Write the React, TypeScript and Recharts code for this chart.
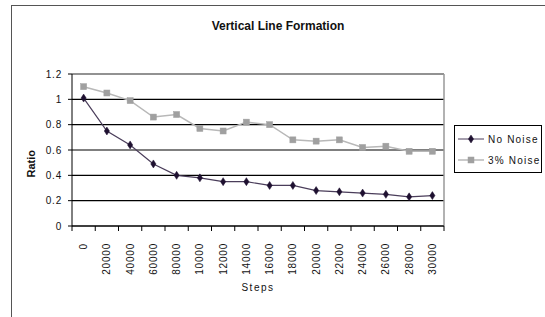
import React from 'react';
import { LineChart, Line, XAxis, YAxis, CartesianGrid } from 'recharts';

const stepLabels = ['0', '20000', '40000', '60000', '80000', '10000', '12000', '14000', '16000', '18000', '20000', '22000', '24000', '26000', '28000', '30000'];
const noNoise = [1.01, 0.75, 0.64, 0.49, 0.4, 0.38, 0.35, 0.35, 0.32, 0.32, 0.28, 0.27, 0.26, 0.25, 0.23, 0.24];
const threePctNoise = [1.1, 1.05, 0.99, 0.86, 0.88, 0.77, 0.75, 0.82, 0.8, 0.68, 0.67, 0.68, 0.62, 0.63, 0.59, 0.59];
const yTicks = [0, 0.2, 0.4, 0.6, 0.8, 1, 1.2];

const data = stepLabels.map((s, i) => ({ idx: i, label: s, noNoise: noNoise[i], noise3: threePctNoise[i] }));

const W = 545;
const H = 317;
const margin = { top: 74, right: 101, left: 32, bottom: 41 };
const Y_AXIS_W = 40;
const plotW = W - margin.left - Y_AXIS_W - margin.right;
const band = plotW / data.length;

const FONT = 'Arial, "Liberation Sans", sans-serif';
const DARK = '#1e1030';
const DARK_LINE = '#4a3d5a';
const GRAY = '#a0a0a0';
const GRAY_LINE = '#b8b8b8';

const Diamond = (props: any) => {
  const { cx, cy } = props;
  if (cx == null || cy == null) return null;
  return <path d={`M${cx},${cy - 4} L${cx + 2.6},${cy} L${cx},${cy + 4} L${cx - 2.6},${cy} Z`} fill={DARK} stroke={DARK} strokeWidth={0.5} />;
};

const Square = (props: any) => {
  const { cx, cy } = props;
  if (cx == null || cy == null) return null;
  return <rect x={cx - 3} y={cy - 3} width={6} height={6} fill={GRAY} stroke={GRAY} strokeWidth={0.5} />;
};

const XTick = (props: any) => {
  const { x, y, payload, index } = props;
  const left = x - band / 2;
  const right = x + band / 2;
  return (
    <g>
      <line x1={left} y1={y - 8} x2={left} y2={y - 3} stroke="#000" strokeWidth={1} />
      {index === data.length - 1 && <line x1={right} y1={y - 8} x2={right} y2={y - 3} stroke="#000" strokeWidth={1} />}
      <text
        x={x}
        y={y + 9}
        transform={`rotate(-90, ${x}, ${y + 9})`}
        textAnchor="end"
        dominantBaseline="central"
        fontSize={10}
        letterSpacing={0.8}
        fill="#111"
        fontFamily={FONT}
      >
        {stepLabels[payload.value]}
      </text>
    </g>
  );
};

const LegendBox = () => (
  <div
    style={{
      position: 'absolute',
      left: 454,
      top: 125,
      width: 88,
      height: 48,
      border: '1px solid #000',
      background: '#fff',
      boxSizing: 'border-box',
    }}
  >
    <svg width={86} height={46} style={{ position: 'absolute', left: 0, top: 0 }}>
      <line x1={3} y1={13} x2={29} y2={13} stroke={DARK_LINE} strokeWidth={1} />
      <Diamond cx={16} cy={13} />
      <text x={33} y={13} dominantBaseline="central" fontSize={10} letterSpacing={1.2} fontFamily={FONT} fill="#111">No Noise</text>
      <line x1={3} y1={34} x2={29} y2={34} stroke={GRAY_LINE} strokeWidth={1.5} />
      <Square cx={16} cy={34} />
      <text x={33} y={34} dominantBaseline="central" fontSize={10} letterSpacing={1.2} fontFamily={FONT} fill="#111">3% Noise</text>
    </svg>
  </div>
);

export default function App() {
  return (
    <div style={{ position: 'absolute', left: 0, top: 0, width: W, height: H, overflow: 'hidden', background: '#fff' }}>
      <div style={{ position: 'absolute', left: 11, top: 5, width: 700, height: 500, border: '1.5px solid #555' }} />
      <div style={{ position: 'absolute', left: 0, top: 0 }}>
        <LineChart width={W} height={H} data={data} margin={margin}>
          <text x={278} y={26} textAnchor="middle" dominantBaseline="central" fontSize={12} fontWeight="bold" fontFamily={FONT} fill="#111">
            Vertical Line Formation
          </text>
          <CartesianGrid vertical={false} horizontal={true} stroke="#000" strokeWidth={1.2} />
          <XAxis
            dataKey="idx"
            type="category"
            height={50}
            padding={{ left: band / 2, right: band / 2 }}
            tickLine={false}
            axisLine={{ stroke: '#000', strokeWidth: 1 }}
            tick={<XTick />}
            interval={0}
            label={{ value: 'Steps', position: 'insideBottom', offset: -15, fontSize: 10, letterSpacing: 1.5, fill: '#111', fontFamily: FONT }}
          />
          <YAxis
            width={Y_AXIS_W}
            domain={[0, 1.2]}
            ticks={yTicks}
            interval={0}
            tickSize={4}
            tickMargin={6}
            tickLine={{ stroke: '#000' }}
            axisLine={{ stroke: '#000', strokeWidth: 1 }}
            tick={{ fontSize: 10, fill: '#111', fontFamily: FONT, letterSpacing: 0.8 }}
            label={{ value: 'Ratio', angle: -90, position: 'left', offset: 1, fontSize: 11, fontWeight: 'bold', fill: '#111', fontFamily: FONT }}
          />
          <Line type="linear" dataKey="noise3" stroke={GRAY_LINE} strokeWidth={1.5} dot={<Square />} activeDot={false} isAnimationActive={false} name="3% Noise" />
          <Line type="linear" dataKey="noNoise" stroke={DARK_LINE} strokeWidth={1.2} dot={<Diamond />} activeDot={false} isAnimationActive={false} name="No Noise" />
          <line x1={72} y1={74} x2={444} y2={74} stroke="#999" strokeWidth={1.5} />
          <line x1={444} y1={74} x2={444} y2={226} stroke="#999" strokeWidth={1.5} />
        </LineChart>
      </div>
      <LegendBox />
    </div>
  );
}
